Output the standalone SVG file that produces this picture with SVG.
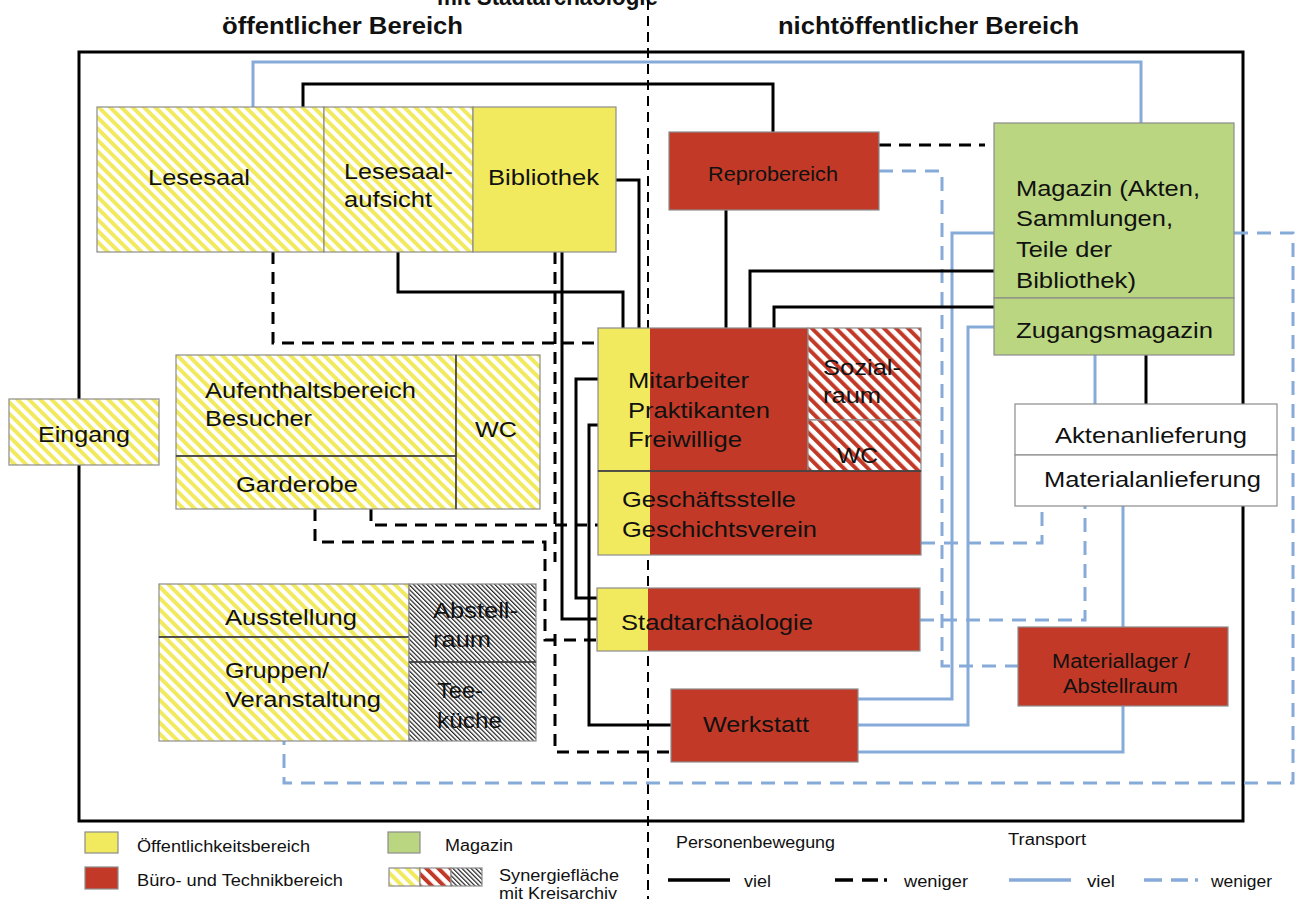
<svg xmlns="http://www.w3.org/2000/svg" width="1296" height="899" viewBox="0 0 1296 899">
<defs>
<pattern id="hy" width="8" height="8" patternUnits="userSpaceOnUse" patternTransform="rotate(-45)"><rect width="8" height="8" fill="#fff"/><rect width="4" height="8" fill="#F2EA5E"/></pattern>
<pattern id="hr" width="8.5" height="8.5" patternUnits="userSpaceOnUse" patternTransform="rotate(-45)"><rect width="8.5" height="8.5" fill="#fff"/><rect width="4" height="8.5" fill="#C23A27"/></pattern>
<pattern id="hk" width="3.2" height="3.2" patternUnits="userSpaceOnUse" patternTransform="rotate(-45)"><rect width="3.2" height="3.2" fill="#fff"/><rect width="1.2" height="3.2" fill="#222"/></pattern>
<style>
.box{stroke:#8c8c8c;stroke-width:1.2}
.dv{stroke:#333;stroke-width:1.4;fill:none}
.y{fill:#F2EA5E}
.r{fill:#C23A27}
.g{fill:#BAD680}
.w{fill:#fff}
.t{font-family:"Liberation Sans",Arial,sans-serif;font-size:22.5px;fill:#111}
.ts{font-size:19.5px}
.lg{font-size:16px}
.h{font-weight:bold;font-size:23px}
.k{fill:none;stroke:#000;stroke-width:3}
.kd{stroke-dasharray:12 8}
.b{fill:none;stroke:#86ABD9;stroke-width:3}
.bd{stroke-dasharray:14 9}
</style>
</defs>
<rect width="1296" height="899" fill="#fff"/>

<g id="headings">
<text class="t h" x="437" y="5" textLength="221" lengthAdjust="spacingAndGlyphs" fill="#222">mit Stadtarchäologie</text>
<text class="t h" x="222" y="34" textLength="241" lengthAdjust="spacingAndGlyphs">öffentlicher Bereich</text>
<text class="t h" x="778" y="34" textLength="301" lengthAdjust="spacingAndGlyphs">nichtöffentlicher Bereich</text>
</g>

<g id="frame">
<line x1="648" y1="0" x2="648" y2="899" stroke="#000" stroke-width="2" stroke-dasharray="10 6"/>
<rect x="79" y="52" width="1164" height="769" fill="none" stroke="#000" stroke-width="3"/>
</g>

<g id="connectors">
<!-- blue solid -->
<path class="b" d="M253,107 V62 H1141 V123"/>
<path class="b" d="M994,233 H952 V699 H858"/>
<path class="b" d="M994,327 H968 V725 H858"/>
<path class="b" d="M858,752 H1123 V706"/>
<path class="b" d="M1123,627 V506"/>
<path class="b" d="M1095,355 V404"/>
<!-- blue dashed -->
<path class="b bd" d="M879,171 H942 V666 H1018"/>
<path class="b bd" d="M921,543 H1042 V506"/>
<path class="b bd" d="M920,620 H1085 V506"/>
<path class="b bd" d="M1234,233 H1293 V783 H284 V741"/>
<!-- black solid -->
<path class="k" d="M303,107 V84 H773 V132"/>
<path class="k" d="M616,180 H639 V328"/>
<path class="k" d="M398,252 V292 H623 V328"/>
<path class="k" d="M726,210 V328"/>
<path class="k" d="M994,271 H750 V328"/>
<path class="k" d="M994,307 H774 V328"/>
<path class="k" d="M1146,355 V404"/>
<path class="k" d="M562,252 V619 H597"/>
<path class="k" d="M598,379 H576 V598 H597"/>
<path class="k" d="M598,425 H589 V725 H671"/>
<!-- black dashed -->
<path class="k kd" d="M273,252 V343 H598"/>
<path class="k kd" d="M879,145 H985"/>
<path class="k kd" d="M555,252 V562"/>
<path class="k kd" d="M371,509 V525 H598"/>
<path class="k kd" d="M315,509 V542 H545 V640 H597"/>
<path class="k kd" d="M555,634 V752 H671"/>
</g>

<g id="lesesaal"><rect class="box" x="97" y="107" width="227" height="145" fill="url(#hy)"/><text class="t" x="148" y="185" textLength="102" lengthAdjust="spacingAndGlyphs">Lesesaal</text></g>
<g id="lesesaalaufsicht"><rect class="box" x="324" y="107" width="149" height="145" fill="url(#hy)"/><text class="t" x="344" y="179" textLength="109" lengthAdjust="spacingAndGlyphs">Lesesaal-</text><text class="t" x="344" y="207" textLength="88" lengthAdjust="spacingAndGlyphs">aufsicht</text></g>
<g id="bibliothek"><rect class="box y" x="473" y="107" width="143" height="145"/><text class="t" x="488" y="185" textLength="111" lengthAdjust="spacingAndGlyphs">Bibliothek</text></g>
<g id="reprobereich"><rect class="box r" x="669" y="132" width="210" height="78"/><text class="t ts" x="708" y="181" textLength="130" lengthAdjust="spacingAndGlyphs">Reprobereich</text></g>
<g id="magazin"><rect class="box g" x="994" y="123" width="240" height="175"/>
<text class="t" x="1016" y="196" textLength="184" lengthAdjust="spacingAndGlyphs">Magazin (Akten,</text>
<text class="t" x="1016" y="226" textLength="157" lengthAdjust="spacingAndGlyphs">Sammlungen,</text>
<text class="t" x="1016" y="257" textLength="96" lengthAdjust="spacingAndGlyphs">Teile der</text>
<text class="t" x="1016" y="288" textLength="120" lengthAdjust="spacingAndGlyphs">Bibliothek)</text></g>
<g id="zugangsmagazin"><rect class="box g" x="994" y="298" width="240" height="57"/><text class="t" x="1016" y="338" textLength="197" lengthAdjust="spacingAndGlyphs">Zugangsmagazin</text></g>
<g id="eingang"><rect class="box" x="9" y="399" width="150" height="66" fill="url(#hy)"/><text class="t" x="38" y="442" textLength="92" lengthAdjust="spacingAndGlyphs">Eingang</text></g>
<g id="aufenthaltsbereich"><rect class="box" x="176" y="355" width="280" height="101" fill="url(#hy)"/><text class="t" x="205" y="398" textLength="211" lengthAdjust="spacingAndGlyphs">Aufenthaltsbereich</text><text class="t" x="205" y="426" textLength="107" lengthAdjust="spacingAndGlyphs">Besucher</text></g>
<g id="garderobe"><rect class="box" x="176" y="456" width="280" height="53" fill="url(#hy)"/><line class="dv" x1="176" y1="456" x2="456" y2="456"/><text class="t" x="236" y="492" textLength="122" lengthAdjust="spacingAndGlyphs">Garderobe</text></g>
<g id="wc-besucher"><rect class="box" x="456" y="355" width="84" height="154" fill="url(#hy)"/><line class="dv" x1="456" y1="355" x2="456" y2="509"/><text class="t" x="475" y="437" textLength="42" lengthAdjust="spacingAndGlyphs">WC</text></g>
<g id="mitarbeiter"><rect class="y" x="598" y="328" width="52" height="143"/><rect class="r" x="650" y="328" width="158" height="143"/><rect class="box" x="598" y="328" width="210" height="143" fill="none"/>
<text class="t" x="628" y="388" textLength="121" lengthAdjust="spacingAndGlyphs">Mitarbeiter</text>
<text class="t" x="628" y="418" textLength="142" lengthAdjust="spacingAndGlyphs">Praktikanten</text>
<text class="t" x="628" y="447" textLength="114" lengthAdjust="spacingAndGlyphs">Freiwillige</text></g>
<g id="sozialraum"><rect class="box" x="808" y="328" width="113" height="92" fill="url(#hr)"/><text class="t" x="823" y="375" textLength="78" lengthAdjust="spacingAndGlyphs">Sozial-</text><text class="t" x="823" y="403" textLength="58" lengthAdjust="spacingAndGlyphs">raum</text></g>
<g id="wc-mitarbeiter"><rect class="box" x="808" y="420" width="113" height="51" fill="url(#hr)"/><text class="t" x="837" y="463" textLength="41" lengthAdjust="spacingAndGlyphs">WC</text></g>
<g id="geschaeftsstelle"><rect class="y" x="598" y="471" width="52" height="84"/><rect class="r" x="650" y="471" width="271" height="84"/><rect class="box" x="598" y="471" width="323" height="84" fill="none"/><line class="dv" x1="598" y1="471" x2="921" y2="471"/>
<text class="t" x="622" y="507" textLength="174" lengthAdjust="spacingAndGlyphs">Geschäftsstelle</text>
<text class="t" x="622" y="537" textLength="195" lengthAdjust="spacingAndGlyphs">Geschichtsverein</text></g>
<g id="aktenanlieferung"><rect class="box w" x="1015" y="404" width="262" height="51"/><text class="t" x="1055" y="443" textLength="192" lengthAdjust="spacingAndGlyphs">Aktenanlieferung</text></g>
<g id="materialanlieferung"><rect class="box w" x="1015" y="455" width="262" height="51"/><text class="t" x="1044" y="487" textLength="217" lengthAdjust="spacingAndGlyphs">Materialanlieferung</text></g>
<g id="stadtarchaeologie"><rect class="y" x="597" y="588" width="51" height="63"/><rect class="r" x="648" y="588" width="272" height="63"/><rect class="box" x="597" y="588" width="323" height="63" fill="none"/><text class="t" x="621" y="630" textLength="192" lengthAdjust="spacingAndGlyphs">Stadtarchäologie</text></g>
<g id="ausstellung"><rect class="box" x="159" y="584" width="250" height="53" fill="url(#hy)"/><text class="t" x="225" y="625" textLength="132" lengthAdjust="spacingAndGlyphs">Ausstellung</text></g>
<g id="gruppen"><rect class="box" x="159" y="637" width="250" height="104" fill="url(#hy)"/><line class="dv" x1="159" y1="637" x2="409" y2="637"/><text class="t" x="225" y="678" textLength="104" lengthAdjust="spacingAndGlyphs">Gruppen/</text><text class="t" x="225" y="707" textLength="156" lengthAdjust="spacingAndGlyphs">Veranstaltung</text></g>
<g id="abstellraum"><rect class="box" x="409" y="584" width="127" height="78" fill="url(#hk)"/><text class="t" x="433" y="618" textLength="85" lengthAdjust="spacingAndGlyphs">Abstell-</text><text class="t" x="433" y="647" textLength="58" lengthAdjust="spacingAndGlyphs">raum</text></g>
<g id="teekueche"><rect class="box" x="409" y="662" width="127" height="79" fill="url(#hk)"/><line class="dv" x1="409" y1="662" x2="536" y2="662"/><text class="t" x="437" y="698" textLength="46" lengthAdjust="spacingAndGlyphs">Tee-</text><text class="t" x="437" y="728" textLength="65" lengthAdjust="spacingAndGlyphs">küche</text></g>
<g id="materiallager"><rect class="box r" x="1018" y="627" width="210" height="79"/><text class="t ts" x="1052" y="668" textLength="138" lengthAdjust="spacingAndGlyphs">Materiallager /</text><text class="t ts" x="1063" y="693" textLength="115" lengthAdjust="spacingAndGlyphs">Abstellraum</text></g>
<g id="werkstatt"><rect class="box r" x="671" y="689" width="187" height="73"/><text class="t" x="703" y="732" textLength="106" lengthAdjust="spacingAndGlyphs">Werkstatt</text></g>

<g id="legend">
<rect class="box y" x="85" y="832" width="33" height="21"/>
<text class="t lg" x="137" y="852" textLength="173" lengthAdjust="spacingAndGlyphs">Öffentlichkeitsbereich</text>
<rect class="box r" x="85" y="867" width="33" height="22"/>
<text class="t lg" x="137" y="886" textLength="206" lengthAdjust="spacingAndGlyphs">Büro- und Technikbereich</text>
<rect class="box g" x="388" y="832" width="32" height="21"/>
<text class="t lg" x="445" y="851" textLength="68" lengthAdjust="spacingAndGlyphs">Magazin</text>
<rect class="box" x="389" y="868" width="31" height="18" fill="url(#hy)"/>
<rect class="box" x="420" y="868" width="31" height="18" fill="url(#hr)"/>
<rect class="box" x="451" y="868" width="31" height="18" fill="url(#hk)"/>
<text class="t lg" x="499" y="881" textLength="120" lengthAdjust="spacingAndGlyphs">Synergiefläche</text>
<text class="t lg" x="499" y="899" textLength="118" lengthAdjust="spacingAndGlyphs">mit Kreisarchiv</text>
<text class="t lg" x="676" y="848" textLength="159" lengthAdjust="spacingAndGlyphs">Personenbewegung</text>
<text class="t lg" x="1008" y="845" textLength="78" lengthAdjust="spacingAndGlyphs">Transport</text>
<line x1="668" y1="880" x2="730" y2="880" stroke="#000" stroke-width="3.5"/>
<text class="t lg" x="744" y="887" textLength="27" lengthAdjust="spacingAndGlyphs">viel</text>
<path d="M835,880 H853 M862,880 H878 M884,880 H887" stroke="#000" stroke-width="3.5" fill="none"/>
<text class="t lg" x="904" y="887" textLength="64" lengthAdjust="spacingAndGlyphs">weniger</text>
<line x1="1009" y1="880" x2="1071" y2="880" stroke="#86ABD9" stroke-width="3.5"/>
<text class="t lg" x="1087" y="887" textLength="28" lengthAdjust="spacingAndGlyphs">viel</text>
<path d="M1144,880 H1162 M1171,880 H1188 M1195,880 H1198" stroke="#86ABD9" stroke-width="3.5" fill="none"/>
<text class="t lg" x="1211" y="887" textLength="61" lengthAdjust="spacingAndGlyphs">weniger</text>
</g>
</svg>
